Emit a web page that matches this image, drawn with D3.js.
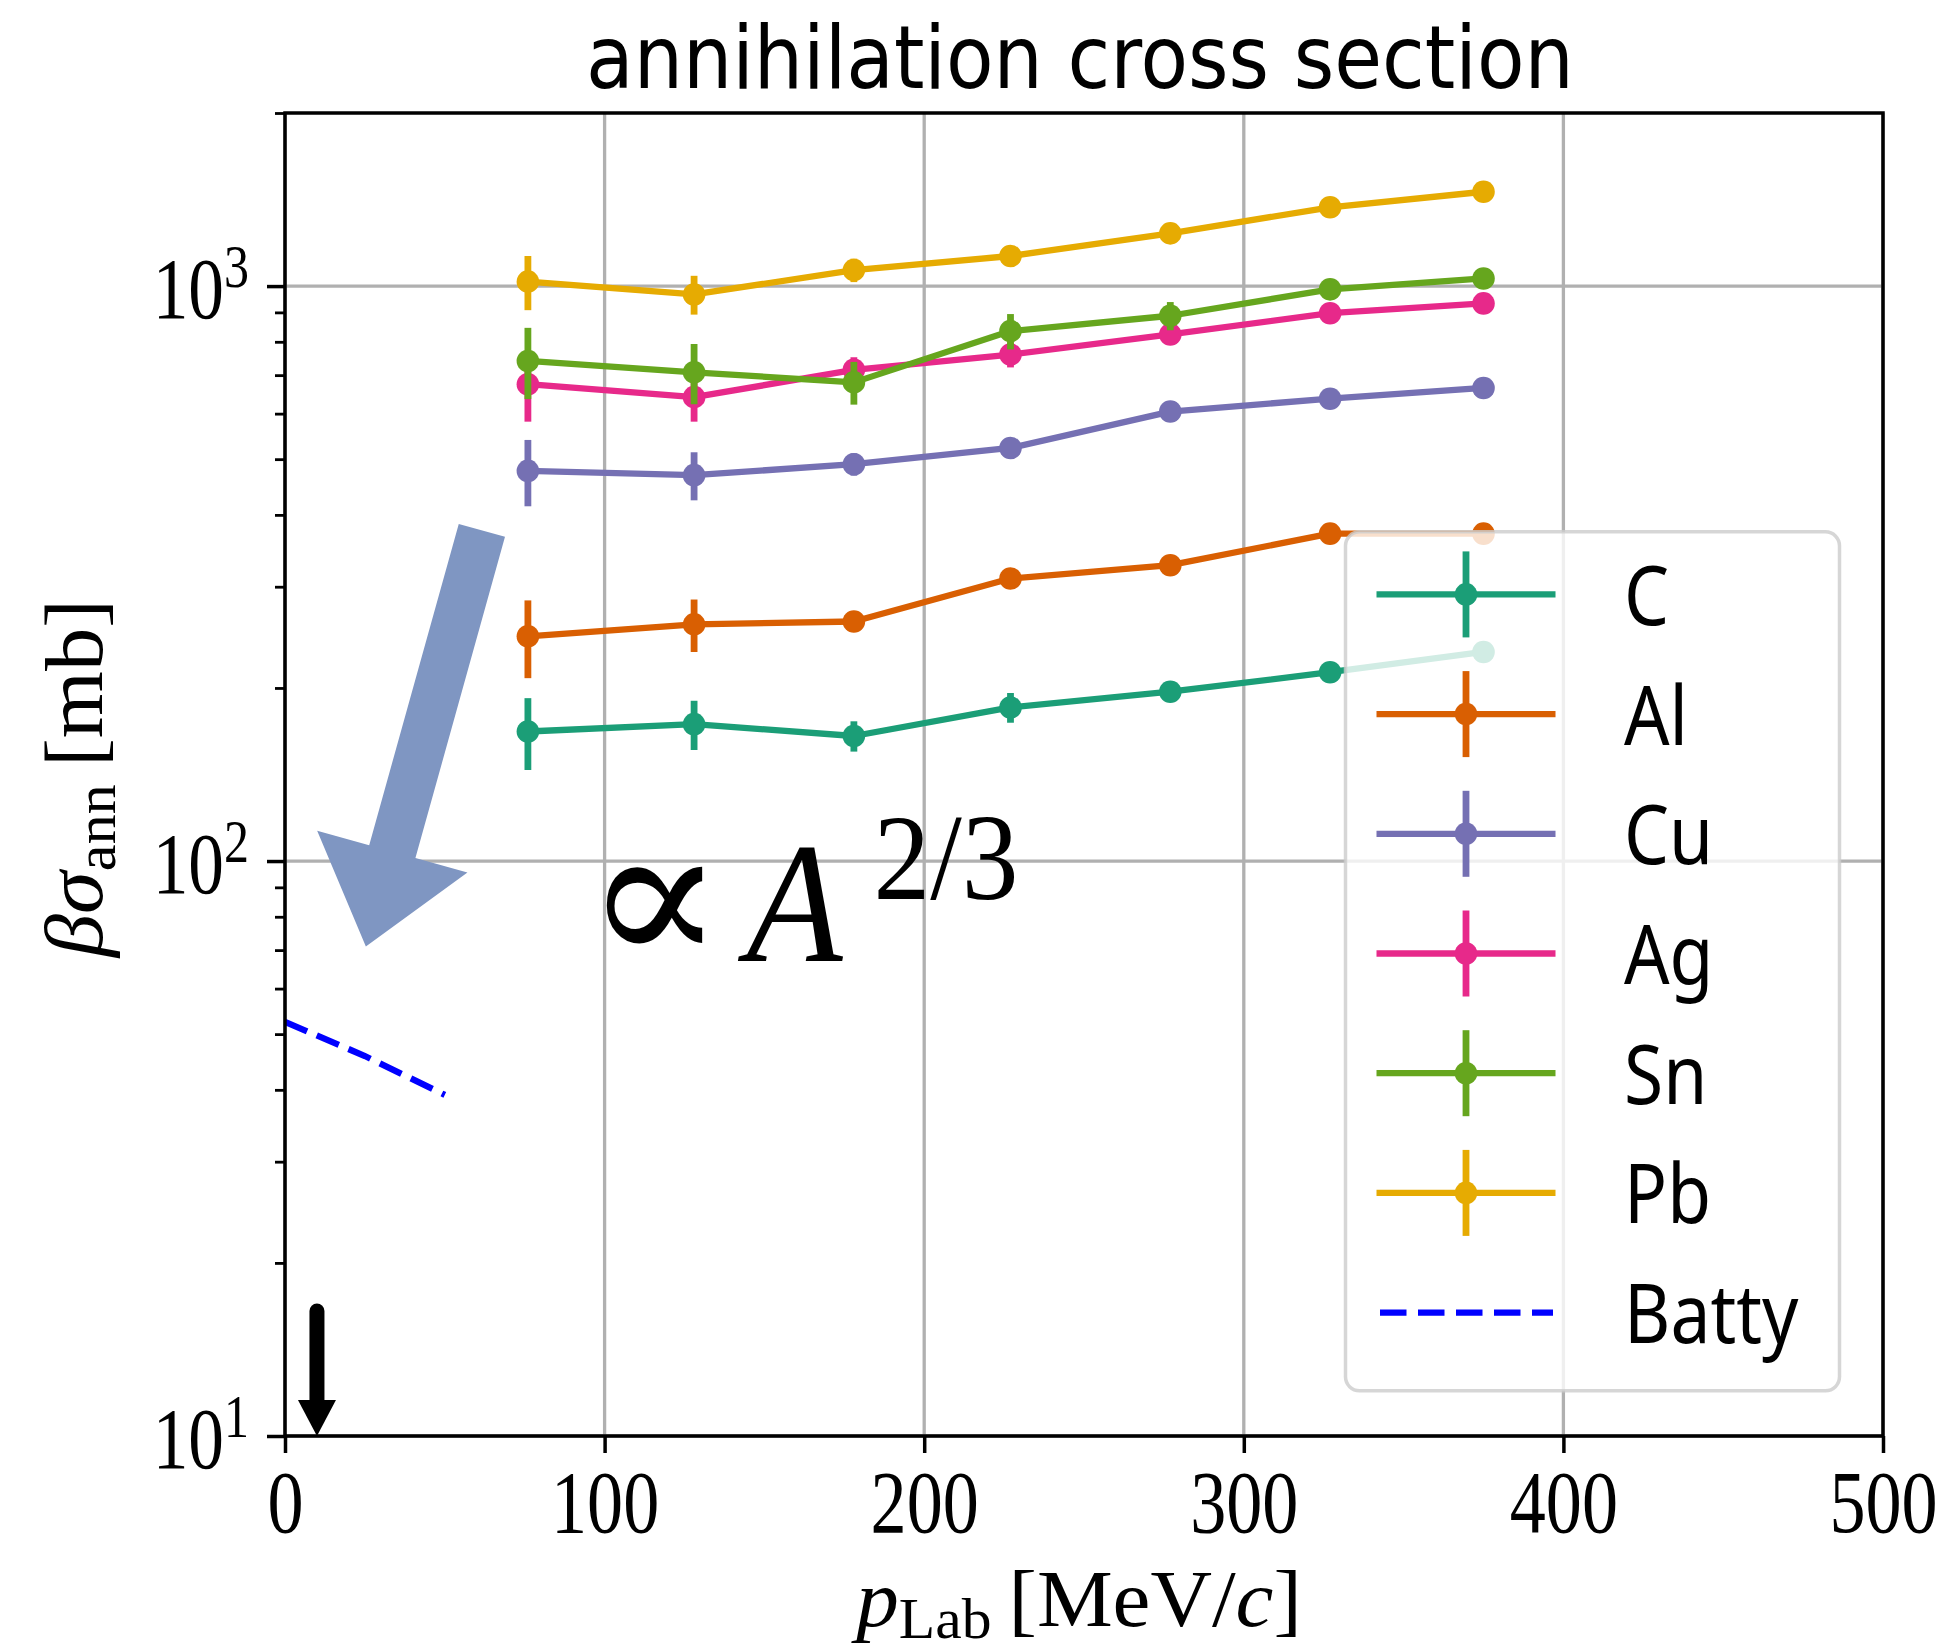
<!DOCTYPE html>
<html lang="en">
<head>
<meta charset="UTF-8">
<title>annihilation cross section</title>
<script src="https://d3js.org/d3.v7.min.js"></script>
<style>
  body { margin: 0; background: #fff; }
  svg { display: block; }
  .serif { font-family: "Liberation Serif", "DejaVu Serif", serif; }
  .sans { font-family: "Noto Sans", "DejaVu Sans", sans-serif; }
  .title { font-family: "DejaVu Sans", sans-serif; }
</style>
</head>
<body>
<div id="chart"></div>
<script>
// ---- data ----
const pLab = [76, 128, 178, 227, 277, 327, 375];
const elements = ["C", "Al", "Cu", "Ag", "Sn", "Pb"];
const colors = ["#1b9e77", "#d95f02", "#7570b3", "#e7298a", "#66a61e", "#e6ab02"];

const sigmaC  = [168, 173, 165, 185, 197, 213, 231];
const sigmaAl = [246, 258, 261, 310, 327, 371, 371];
const sigmaCu = [477, 469, 490, 523, 605, 637, 665];
const sigmaAg = [675, 641, 715, 760, 824, 897, 933];
const sigmaSn = [741, 708, 680, 835, 888, 987, 1031];
const sigmaPb = [1018, 967, 1066, 1128, 1235, 1371, 1459];

const errC  = [24, 17, 10, 11, 7, 7, 7];
const errAl = [38, 27, 10, 10, 10, 12, 12];
const errCu = [63, 45, 22, 20, 22, 22, 25];
const errAg = [94, 60, 37, 38, 30, 30, 30];
const errSn = [105, 85, 58, 59, 50, 40, 40];
const errPb = [110, 75, 50, 45, 45, 50, 50];

const battyP = [0, 25, 50];
const battySigma = [52.5, 45.8, 39.2];

const xTicks = [0, 100, 200, 300, 400, 500];
const yTicks = [10, 100, 1000];
const yExp = ["1", "2", "3"];

// annotation anchors (data coords)
const bigArrowTail = [61.6, 376];
const bigArrowTip = [25.3, 71];
const limitP = 10, limitFrom = 16.5, limitTo = 10;
const propLabelAt = [97.5, 67];

const series = [sigmaC, sigmaAl, sigmaCu, sigmaAg, sigmaSn, sigmaPb];
const errors = [errC, errAl, errCu, errAg, errSn, errPb];

// ---- layout ----
const width = 1946, height = 1651;
const margin = { top: 113, right: 63, bottom: 215, left: 285 };
const textSquash = 0.82;

const svg = d3.select("#chart").append("svg")
  .attr("width", width)
  .attr("height", height);

const x = d3.scaleLinear().domain([0, 500]).range([margin.left, width - margin.right]);
const y = d3.scaleLog().domain([10, 2000]).range([height - margin.bottom, margin.top]);

const x0 = x.range()[0], x1 = x.range()[1];
const yb = y.range()[0], yt = y.range()[1];

// grid
const grid = svg.append("g");
grid.selectAll("line.vx").data(xTicks).enter().append("line")
  .attr("x1", d => x(d)).attr("x2", d => x(d))
  .attr("y1", yt).attr("y2", yb)
  .attr("stroke", "#b0b0b0").attr("stroke-width", 3.3);
grid.selectAll("line.hy").data(yTicks).enter().append("line")
  .attr("x1", x0).attr("x2", x1)
  .attr("y1", d => y(d)).attr("y2", d => y(d))
  .attr("stroke", "#b0b0b0").attr("stroke-width", 3.3);

// Batty curve
const line = d3.line().x(d => x(d[0])).y(d => y(d[1]));
svg.append("path")
  .datum(battyP.map((p, i) => [p, battySigma[i]]))
  .attr("d", line)
  .attr("fill", "none")
  .attr("stroke", "#0000ff")
  .attr("stroke-width", 6.3)
  .attr("stroke-dasharray", "24,10.5");

// data series with error bars
series.forEach((vals, si) => {
  const g = svg.append("g");
  const pts = pLab.map((p, i) => [p, vals[i]]);
  g.append("path").datum(pts).attr("d", line)
    .attr("fill", "none").attr("stroke", colors[si]).attr("stroke-width", 6.3)
    .attr("stroke-linejoin", "round");
  g.selectAll("line.err").data(pts).enter().append("line")
    .attr("x1", d => x(d[0])).attr("x2", d => x(d[0]))
    .attr("y1", (d, i) => y(d[1] + errors[si][i]))
    .attr("y2", (d, i) => y(d[1] - errors[si][i]))
    .attr("stroke", colors[si]).attr("stroke-width", 6.8);
  g.selectAll("circle").data(pts).enter().append("circle")
    .attr("cx", d => x(d[0])).attr("cy", d => y(d[1]))
    .attr("r", 11.3).attr("fill", colors[si]);
});

// big arrow (propto A^2/3)
(function () {
  const tx = x(bigArrowTail[0]), ty = y(bigArrowTail[1]);
  const px = x(bigArrowTip[0]), py = y(bigArrowTip[1]);
  const L = Math.hypot(px - tx, py - ty);
  const ux = (px - tx) / L, uy = (py - ty) / L;
  const nx = -uy, ny = ux;
  const hw = 24, hh = 78, hl = 98.5;
  const bx = px - ux * hl, by = py - uy * hl;
  const poly = [
    [tx + nx * hw, ty + ny * hw], [bx + nx * hw, by + ny * hw], [bx + nx * hh, by + ny * hh],
    [px, py],
    [bx - nx * hh, by - ny * hh], [bx - nx * hw, by - ny * hw], [tx - nx * hw, ty - ny * hw]
  ];
  svg.append("polygon").attr("points", poly.map(p => p.join(",")).join(" "))
    .attr("fill", "#7f96c2");
})();

// limit arrow at the bottom
(function () {
  const ax = x(limitP), ya = y(limitFrom), yz = y(limitTo);
  const headL = 36, headW = 19;
  svg.append("line").attr("x1", ax).attr("x2", ax).attr("y1", ya).attr("y2", yz - headL + 2)
    .attr("stroke", "#000").attr("stroke-width", 15).attr("stroke-linecap", "round");
  svg.append("polygon")
    .attr("points", [[ax - headW, yz - headL], [ax + headW, yz - headL], [ax, yz]].map(p => p.join(",")).join(" "))
    .attr("fill", "#000");
})();

// proportional label
function fitText(parent, tx, ty, w, anchor, build) {
  const g = parent.append("g").attr("transform", `translate(${tx},${ty})`);
  const t = g.append("text").attr("text-anchor", anchor);
  build(t);
  const bw = t.node().getBBox().width;
  t.attr("transform", `scale(${w / bw},1)`);
  return g;
}
{
  const lx = x(propLabelAt[0]), ly = y(propLabelAt[1]);
  fitText(svg, lx - 12, ly + 4, 140, "start", t => t.attr("font-family", "DejaVu Serif")
    .attr("font-size", 200).text("\u221D"));
  fitText(svg, lx + 150, ly, 106, "start", t => t.attr("class", "serif")
    .attr("font-size", 172).attr("font-style", "italic").text("A"));
  fitText(svg, lx + 277, ly - 62, 145, "start", t => t.attr("class", "serif")
    .attr("font-size", 122).text("2/3"));
}

// spines
svg.append("rect").attr("x", x0).attr("y", yt).attr("width", x1 - x0).attr("height", yb - yt)
  .attr("fill", "none").attr("stroke", "#000").attr("stroke-width", 3.5);

// x axis
const xAxis = svg.append("g").attr("transform", `translate(0,${yb})`)
  .call(d3.axisBottom(x).tickValues(xTicks).tickSize(17).tickFormat(d3.format("d")));
xAxis.select(".domain").remove();
xAxis.selectAll("line").attr("stroke-width", 3.5);
xAxis.selectAll("text")
  .attr("class", "serif").attr("font-family", null)
  .attr("font-size", 88).attr("fill", "#000")
  .attr("y", 96).attr("dy", null)
  .attr("transform", `scale(${textSquash},1)`);

// y axis (major + minor ticks)
const minorTicks = [];
yTicks.forEach(d => { for (let k = 2; k <= 9; k++) if (d * k <= 2000) minorTicks.push(d * k); });
const yAxis = svg.append("g").attr("transform", `translate(${x0},0)`)
  .call(d3.axisLeft(y).tickValues(yTicks).tickSize(18).tickFormat(""));
yAxis.select(".domain").remove();
yAxis.selectAll("line").attr("stroke-width", 3.5);
const yMinor = svg.append("g").attr("transform", `translate(${x0},0)`)
  .call(d3.axisLeft(y).tickValues(minorTicks).tickSize(10).tickFormat(""));
yMinor.select(".domain").remove();
yMinor.selectAll("line").attr("stroke-width", 2.8);

yTicks.forEach((d, i) => {
  const g = svg.append("g").attr("transform", `translate(249,${y(d)}) scale(${textSquash},1)`);
  const t = g.append("text").attr("class", "serif").attr("text-anchor", "end").attr("fill", "#000");
  t.append("tspan").attr("font-size", 87).attr("y", 32).text("10");
  t.append("tspan").attr("font-size", 61).attr("dy", -31).text(yExp[i]);
});

// axis labels
fitText(svg, 1079, 1626, 451, "middle", t => {
  t.attr("class", "serif").attr("font-size", 80);
  t.append("tspan").attr("font-style", "italic").text("p");
  t.append("tspan").attr("font-size", 56).attr("dy", 12).text("Lab");
  t.append("tspan").attr("dy", -12).text("\u2009[MeV/");
  t.append("tspan").attr("font-style", "italic").text("c");
  t.append("tspan").text("]");
});
{
  const g = svg.append("g").attr("transform", "translate(102,778) rotate(-90)");
  const t = g.append("text").attr("class", "serif").attr("text-anchor", "middle").attr("font-size", 83);
  t.append("tspan").attr("font-style", "italic").text("\u03B2\u03C3");
  t.append("tspan").attr("font-size", 58).attr("dy", 13).text("ann");
  t.append("tspan").attr("dy", -13).text("\u2009[mb]");
  const bw = t.node().getBBox().width;
  t.attr("transform", `scale(${360 / bw},1)`);
}

// title
fitText(svg, 586, 88, 988, "start", t => t.attr("class", "title").attr("font-size", 88)
  .text("annihilation cross section"));

// legend
const legend = svg.append("g");
legend.append("rect")
  .attr("x", 1345.5).attr("y", 531.8).attr("width", 494).attr("height", 859)
  .attr("rx", 14).attr("ry", 14)
  .attr("fill", "#fff").attr("fill-opacity", 0.8)
  .attr("stroke", "#cccccc").attr("stroke-opacity", 0.8).attr("stroke-width", 3.5);

const legendNames = elements.concat(["Batty"]);
legendNames.forEach((name, i) => {
  const ry = 594.4 + i * 119.7;
  if (i < elements.length) {
    legend.append("line").attr("x1", 1376.5).attr("x2", 1555.5).attr("y1", ry).attr("y2", ry)
      .attr("stroke", colors[i]).attr("stroke-width", 6.3);
    legend.append("line").attr("x1", 1466).attr("x2", 1466).attr("y1", ry - 43).attr("y2", ry + 43)
      .attr("stroke", colors[i]).attr("stroke-width", 6.8);
    legend.append("circle").attr("cx", 1466).attr("cy", ry).attr("r", 11.3).attr("fill", colors[i]);
  } else {
    legend.append("line").attr("x1", 1380).attr("x2", 1553).attr("y1", ry).attr("y2", ry)
      .attr("stroke", "#0000ff").attr("stroke-width", 6.3).attr("stroke-dasharray", "26.5,11.5");
  }
  legend.append("g").attr("transform", `translate(1624,${ry + 30.4}) scale(0.86,1)`)
    .append("text").attr("class", "sans").attr("font-size", 83).attr("fill", "#000").text(name);
});
</script>
</body>
</html>
